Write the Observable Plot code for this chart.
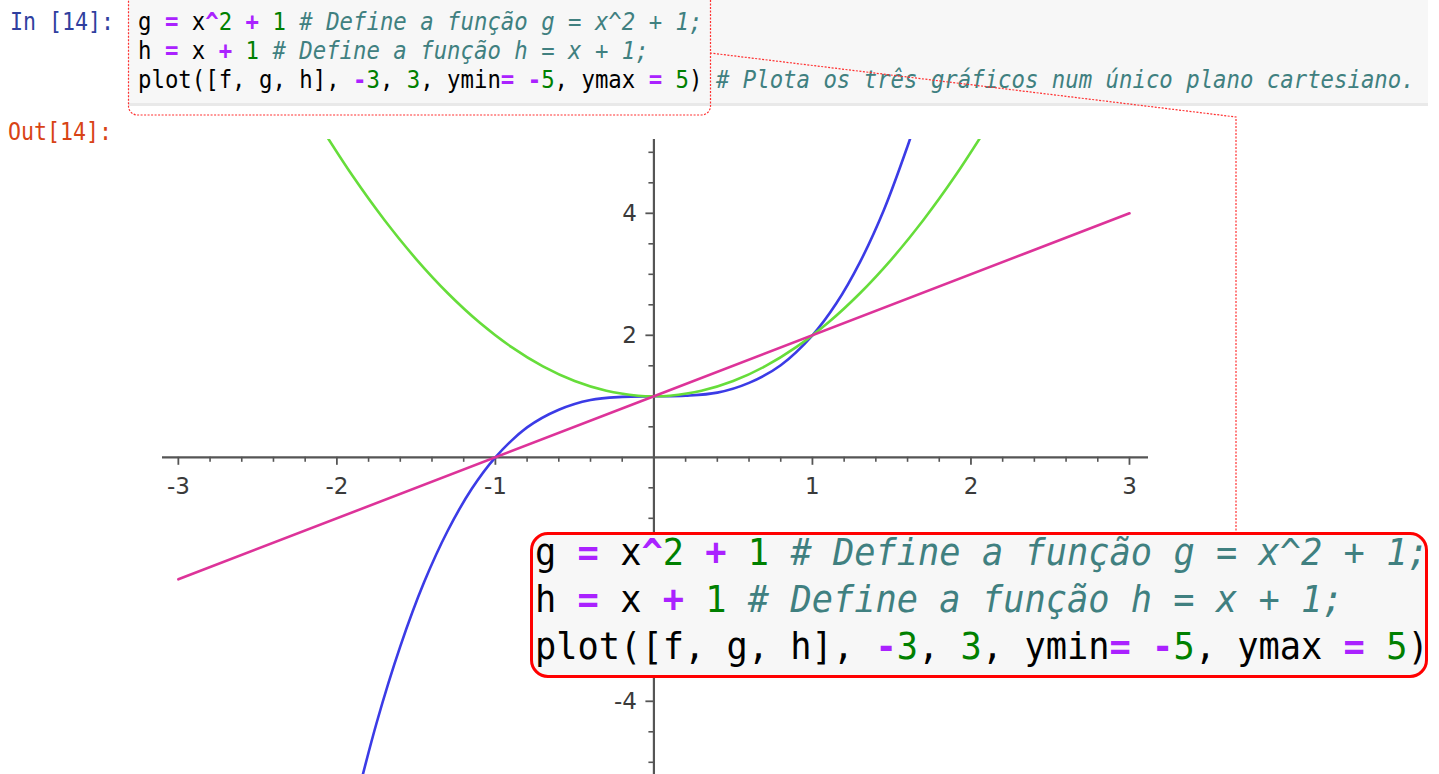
<!DOCTYPE html>
<html>
<head>
<meta charset="utf-8">
<script src="https://cdn.jsdelivr.net/npm/d3@7"></script>
<script src="https://cdn.jsdelivr.net/npm/@observablehq/plot@0.6"></script>
<style>
  html, body { margin: 0; padding: 0; background: #fff; }
  #page { position: relative; width: 1439px; height: 774px; overflow: hidden; background: #fff; }
  #chart { position: absolute; left: 0; top: 0; }
  .mono { font-family: "DejaVu Sans Mono", monospace; }
  .mono div { white-space: pre; }
  .prompt { position: absolute; font-size: 24px; line-height: 29px; white-space: pre; transform: scaleX(0.9); transform-origin: left center; }
  .cell { position: absolute; left: 128px; top: 0; width: 1300px; height: 103px; background: #f7f7f7; border-bottom: 3px solid #e9e9e9; }
  .code { position: absolute; left: 138px; top: 8px; font-size: 24px; line-height: 29px; color: #000; }
  .code div, .big div { transform: scaleX(0.93); transform-origin: left center; }
  .op { color: #aa22ff; font-weight: bold; }
  .num { color: #008000; }
  .com { color: #408080; font-style: italic; }
  .callout { position: absolute; left: 530px; top: 532px; width: 898px; height: 146px; box-sizing: border-box;
             border: 3px solid #ff0000; border-radius: 18px; background: #f7f7f7; overflow: hidden; }
  .big { position: absolute; left: 2px; top: -6px; font-size: 38px; line-height: 47px; color: #000; }
  #links { position: absolute; left: 0; top: 0; pointer-events: none; }
</style>
</head>
<body>
<div id="page">
  <div id="chart"></div>
  <div class="cell"></div>
  <div class="prompt mono" style="left:10px; top:8px; color:#303f9f;">In [14]:</div>
  <div class="prompt mono" style="left:8px; top:118px; color:#d84315;">Out[14]:</div>
  <div class="code mono">
    <div>g <span class="op">=</span> x<span class="op">^</span><span class="num">2</span> <span class="op">+</span> <span class="num">1</span> <span class="com"># Define a função g = x^2 + 1;</span></div>
    <div>h <span class="op">=</span> x <span class="op">+</span> <span class="num">1</span> <span class="com"># Define a função h = x + 1;</span></div>
    <div>plot([f, g, h], <span class="op">-</span><span class="num">3</span>, <span class="num">3</span>, ymin<span class="op">=</span> <span class="op">-</span><span class="num">5</span>, ymax <span class="op">=</span> <span class="num">5</span>) <span class="com"># Plota os três gráficos num único plano cartesiano.</span></div>
  </div>
  <svg id="links" width="1439" height="774">
    <rect x="128.5" y="-12" width="582" height="127" rx="9" fill="none" stroke="#ff3030" stroke-width="1.2" stroke-dasharray="2 1.5"/>
    <path d="M710,53 L1236,117 L1236,533" fill="none" stroke="#ff3030" stroke-width="1.2" stroke-dasharray="2 1.5"/>
  </svg>
  <div class="callout">
    <div class="big mono">
      <div>g <span class="op">=</span> x<span class="op">^</span><span class="num">2</span> <span class="op">+</span> <span class="num">1</span> <span class="com"># Define a função g = x^2 + 1;</span></div>
      <div>h <span class="op">=</span> x <span class="op">+</span> <span class="num">1</span> <span class="com"># Define a função h = x + 1;</span></div>
      <div>plot([f, g, h], <span class="op">-</span><span class="num">3</span>, <span class="num">3</span>, ymin<span class="op">=</span> <span class="op">-</span><span class="num">5</span>, ymax <span class="op">=</span> <span class="num">5</span>)</div>
    </div>
  </div>
</div>
<script>
// Sampled points of the three curves: f (blue), g (green), h (pink)
const fX = [-1.9, -1.75, -1.6, -1.45, -1.3, -1.15, -1.0, -0.8, -0.6, -0.4, -0.2, 0, 0.2, 0.4, 0.6, 0.8, 1.0, 1.15, 1.3, 1.45, 1.6, 1.65];
const fY = [-5.86, -4.36, -3.10, -2.05, -1.20, -0.52, 0, 0.49, 0.78, 0.94, 0.99, 1, 1.01, 1.06, 1.22, 1.51, 2, 2.52, 3.20, 4.05, 5.10, 5.49];

const gX = [-2.1, -1.9, -1.7, -1.5, -1.3, -1.1, -0.9, -0.7, -0.5, -0.3, -0.1, 0, 0.1, 0.3, 0.5, 0.7, 0.9, 1.1, 1.3, 1.5, 1.7, 1.9, 2.1];
const gY = [5.41, 4.61, 3.89, 3.25, 2.69, 2.21, 1.81, 1.49, 1.25, 1.09, 1.01, 1, 1.01, 1.09, 1.25, 1.49, 1.81, 2.21, 2.69, 3.25, 3.89, 4.61, 5.41];

const hX = [-3, 0, 3];
const hY = [-2, 1, 4];

// Axis ticks and labels
const xMajor = [-3, -2, -1, 1, 2, 3];
const xMinor = d3.range(-15, 16).map(i => i / 5).filter(v => Math.abs(v - Math.round(v)) > 1e-9);
const yMajor = [-4, -2, 2, 4];
const yLabels = [-4, 2, 4]; // the -2 label sits under the code callout
const yMinor = [-5, -4.5, -3.5, -3, -2.5, -1.5, -1, -0.5, 0.5, 1, 1.5, 2.5, 3, 3.5, 4.5, 5];

const xDomain = [-3.1, 3.12];
const yDomain = [-5.2, 5.21];
const W = 1439, H = 774;
const mL = 162, mR = 291, mT = 139, mB = 0;

// pixel lengths converted to data units for the tick rules
const pxX = (xDomain[1] - xDomain[0]) / (W - mL - mR);
const pxY = (yDomain[1] - yDomain[0]) / (H - mT - mB);

const toRows = (xs, ys) => xs.map((x, i) => ({x, y: ys[i]}));
const axisColor = "#555";
const lineW = 2.6;

const chart = Plot.plot({
  width: W, height: H,
  marginLeft: mL, marginRight: mR, marginTop: mT, marginBottom: mB,
  x: {domain: xDomain, axis: null},
  y: {domain: yDomain, axis: null},
  style: {fontFamily: "'DejaVu Sans', sans-serif", background: "transparent", overflow: "visible"},
  marks: [
    Plot.ruleY([0], {x1: xDomain[0], x2: xDomain[1], stroke: axisColor, strokeWidth: 2.2}),
    Plot.ruleX([0], {y1: yDomain[0], y2: yDomain[1], stroke: axisColor, strokeWidth: 2.2}),
    Plot.ruleX(xMinor, {y1: 0, y2: -5 * pxY, stroke: axisColor, strokeWidth: 1.6}),
    Plot.ruleX(xMajor, {y1: 0, y2: -8 * pxY, stroke: axisColor, strokeWidth: 1.8}),
    Plot.ruleY(yMinor, {x1: 0, x2: -5 * pxX, stroke: axisColor, strokeWidth: 1.6}),
    Plot.ruleY(yMajor, {x1: 0, x2: -8 * pxX, stroke: axisColor, strokeWidth: 1.8}),
    Plot.text(xMajor, {x: d => d, y: 0, dy: 29, text: d => `${d}`, fontSize: 23, fill: "#3a3a3a"}),
    Plot.text(yLabels, {x: 0, y: d => d, dx: -17, text: d => `${d}`, textAnchor: "end", fontSize: 23, fill: "#3a3a3a"}),
    Plot.line(toRows(fX, fY), {x: "x", y: "y", stroke: "#3b3be6", strokeWidth: lineW, curve: "catmull-rom", clip: true}),
    Plot.line(toRows(gX, gY), {x: "x", y: "y", stroke: "#66dd3a", strokeWidth: lineW, curve: "catmull-rom", clip: true}),
    Plot.line(toRows(hX, hY), {x: "x", y: "y", stroke: "#dd3399", strokeWidth: lineW, clip: true})
  ]
});
document.getElementById("chart").appendChild(chart);
</script>
</body>
</html>
